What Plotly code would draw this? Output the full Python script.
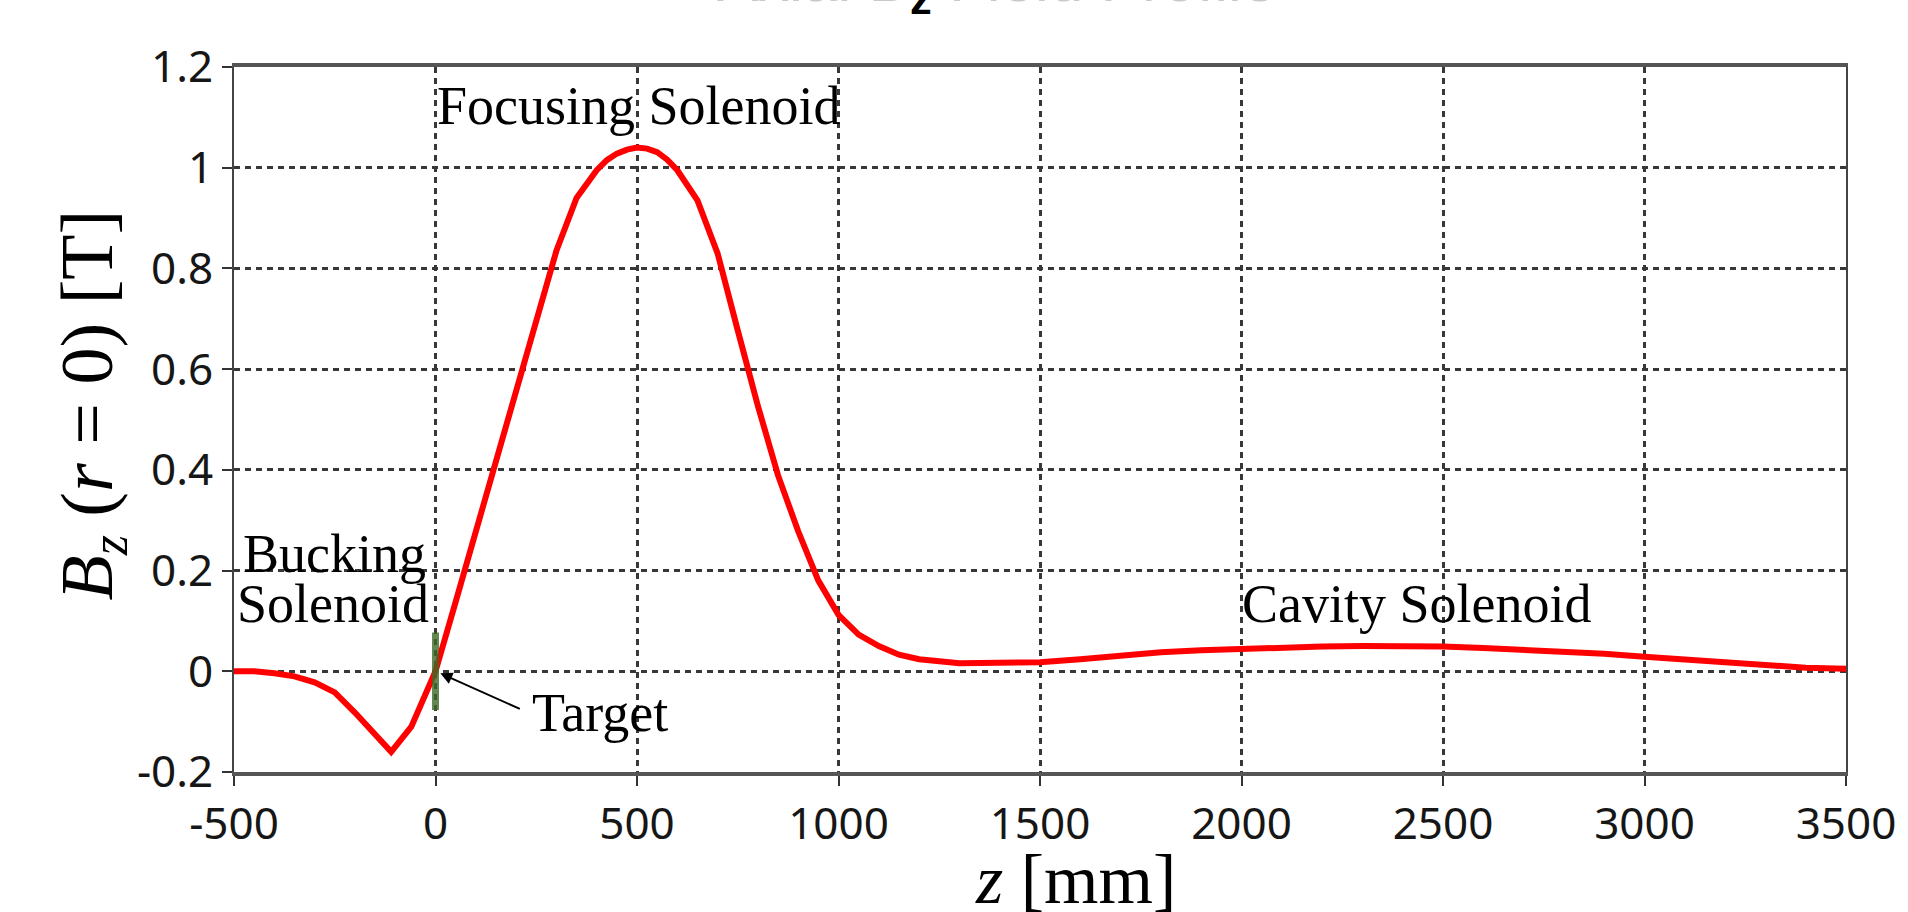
import plotly.graph_objects as go

# On-axis field profile B_z(r=0) versus z
z_mm = [-500, -450, -400, -350, -300, -250, -200, -150, -110, -60, 0,
        50, 100, 150, 200, 250, 300, 350, 400, 425, 450, 475, 500, 525, 550, 575,
        600, 650, 700, 750, 800, 850, 900, 950, 1000, 1050, 1100, 1150, 1200, 1300,
        1400, 1500, 1600, 1700, 1800, 1900, 2000, 2100, 2200, 2300, 2400,
        2500, 2600, 2700, 2800, 2900, 3000, 3100, 3200, 3300, 3400, 3500]
bz_tesla = [0.0, 0.0, -0.004, -0.010, -0.022, -0.042, -0.082, -0.127, -0.160, -0.110, 0.0,
            0.138, 0.277, 0.41, 0.55, 0.69, 0.835, 0.94, 0.995, 1.015, 1.028, 1.036, 1.04,
            1.038, 1.031, 1.016, 0.995, 0.935, 0.83, 0.677, 0.527, 0.389, 0.278, 0.18, 0.112,
            0.073, 0.05, 0.033, 0.024, 0.016, 0.016, 0.018, 0.024, 0.032, 0.038, 0.042,
            0.045, 0.047, 0.049, 0.05, 0.05, 0.049, 0.046, 0.043, 0.04, 0.035, 0.029,
            0.023, 0.017, 0.012, 0.007, 0.005]

# Target marker position and extent
target_z = [0, 0]
target_bz = [-0.077, 0.077]

x_ticks = [-500, 0, 500, 1000, 1500, 2000, 2500, 3000, 3500]
x_tick_text = ["-500", "0", "500", "1000", "1500", "2000", "2500", "3000", "3500"]
y_ticks = [-0.2, 0, 0.2, 0.4, 0.6, 0.8, 1.0, 1.2]
y_tick_text = ["-0.2", "0", "0.2", "0.4", "0.6", "0.8", "1", "1.2"]

SERIF = "Liberation Serif"
SANS = "Noto Sans"

fig = go.Figure()
fig.add_trace(go.Scatter(x=z_mm, y=bz_tesla, mode="lines",
                         line=dict(color="#ff0000", width=6), hoverinfo="skip"))
fig.add_trace(go.Scatter(x=target_z, y=target_bz, mode="lines",
                         line=dict(color="rgba(62,105,40,0.8)", width=7), hoverinfo="skip"))

grid = dict(showgrid=True, gridcolor="#383838", gridwidth=2.5, griddash="6px,5px",
            zeroline=False, ticks="outside", ticklen=10, tickwidth=2, tickcolor="#333",
            tickfont=dict(family=SANS, size=44, color="#161616"), mirror=True)

fig.update_xaxes(range=[-500, 3500], tickvals=x_ticks, ticktext=x_tick_text,
                 showline=True, linecolor="#555", linewidth=4, **grid)
fig.update_yaxes(range=[-0.2, 1.2], tickvals=y_ticks, ticktext=y_tick_text,
                 showline=True, linecolor="#444", linewidth=2, **grid)

text_font = dict(family=SERIF, size=54, color="black")
labels = [
    ("Focusing Solenoid", 505, 1.122),
    ("Bucking", -250, 0.232),
    ("Solenoid", -255, 0.134),
    ("Target", 409, -0.082),
    ("Cavity Solenoid", 2435, 0.133),
]
for txt, zx, yy in labels:
    fig.add_annotation(x=zx, y=yy, text=txt, showarrow=False, font=text_font,
                       xanchor="center", yanchor="middle")

# Arrow pointing at the target
fig.add_annotation(x=12, y=-0.004, ax=213, ay=-0.076, axref="x", ayref="y",
                   text="", showarrow=True, arrowhead=2, arrowsize=1.2,
                   arrowwidth=2, arrowcolor="black", standoff=0)

# Axis titles
fig.add_annotation(xref="paper", yref="paper", x=-0.088, y=0.52, textangle=-90,
                   text="<i>B<sub>z</sub></i> (<i>r</i> = 0) [T]",
                   showarrow=False,
                   font=dict(family=SERIF, size=74, color="black"),
                   xanchor="center", yanchor="middle")
fig.add_annotation(xref="paper", yref="paper", x=0.522, y=-0.152,
                   text="<i>z</i> [mm]", showarrow=False,
                   font=dict(family=SERIF, size=70, color="black"),
                   xanchor="center", yanchor="middle")

# Figure title sitting at the top edge of the page
fig.add_annotation(xref="paper", yref="paper", x=0.473, y=1.118, yanchor="middle",
                   text="<span style='color:#c8c8c8'>Axial B</span><b><sub>z</sub></b>"
                        "<span style='color:#c8c8c8'> Field Profile</span>",
                   showarrow=False,
                   font=dict(family="Liberation Sans", size=62, color="black"))

fig.update_layout(width=1908, height=912, showlegend=False,
                  paper_bgcolor="white", plot_bgcolor="white",
                  margin=dict(l=234, r=54, t=67, b=140))

fig.write_html("out.html")
